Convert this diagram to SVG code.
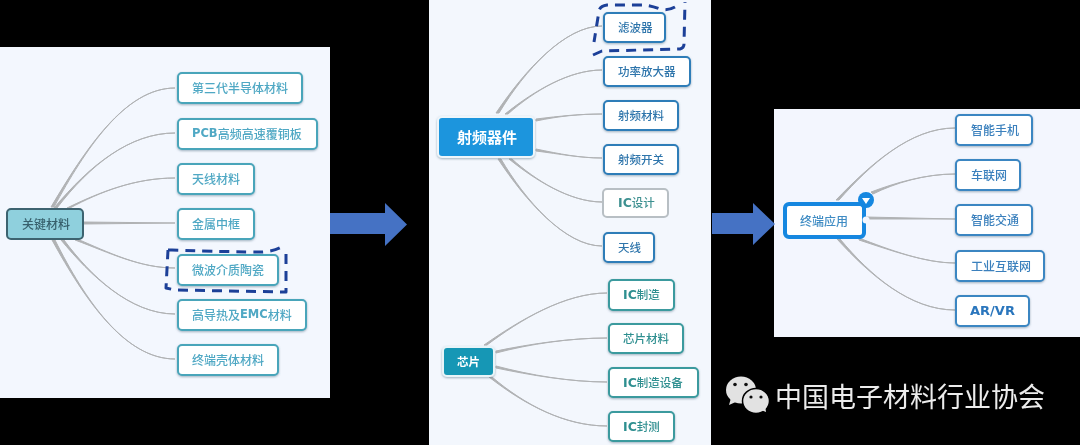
<svg xmlns="http://www.w3.org/2000/svg" width="1080" height="445" viewBox="0 0 1080 445">
<style>
text{font-family:"Noto Sans CJK SC","Liberation Sans",sans-serif;font-size:12px;font-weight:500;dominant-baseline:central;transform:translateY(-1px)}
.l{font-family:"DejaVu Sans","Liberation Sans",sans-serif;font-weight:700;font-size:11.5px}
.n{fill:#fff;stroke-width:2;filter:url(#sh)}
.a .n{stroke:#4aa5ba}.a text{fill:#4fa8c4}
.b .n{stroke:#2f7db8}.b text{fill:#2d74ab;font-size:11.5px}
.c .n{stroke:#3b9a9e}.c text{fill:#2f8f90;font-size:11.5px}
.d .n{stroke:#3b86c2}.d text{fill:#3a80bd}
.e .n{stroke:#b8bfc4;filter:none}.e text{fill:#3d9090;font-size:11.5px}
#conn path{fill:#b0b2b4;stroke:#b0b2b4;stroke-width:1}
.dash{fill:none;stroke:#1d3f98;stroke-width:3;stroke-dasharray:10 7;stroke-linejoin:round}
.ar{fill:#4472c4}
</style>
<defs>
<filter id="sh" x="-10%" y="-20%" width="120%" height="150%"><feDropShadow dx="0" dy="1" stdDeviation="0.8" flood-color="#4a6a80" flood-opacity=".5"/></filter>
<filter id="soft" x="0" y="0" width="100%" height="100%"><feGaussianBlur stdDeviation="0.4"/></filter>
</defs>
<rect width="1080" height="445" fill="#000"/>
<g filter="url(#soft)">
<rect x="0" y="47" width="330" height="351" fill="#f3f7fe"/>
<rect x="429" y="0" width="282" height="445" fill="#f3f7fd"/>
<rect x="774" y="109" width="306" height="228" fill="#f3f6fe"/>

<g id="conn">
<path d="M51 207C85 150 125 88 175 88C125 88 85 150 54 207Z"/>
<path d="M54 208C90 165 130 133 175 133C130 133 90 165 57 208Z"/>
<path d="M67 208C100 192 135 178 175 178C135 178 100 192 70 208Z"/>
<path d="M83 222L175 223L83 224Z"/>
<path d="M75 238C110 253 140 268 175 268C140 268 110 253 75 240Z"/>
<path d="M61 240C90 275 130 314 175 314C130 314 90 275 64 240Z"/>
<path d="M52 240C85 300 125 359 175 359C125 359 85 300 55 240Z"/>
<path d="M496 113C525 70 565 26 602 26C565 26 525 70 499 113Z"/>
<path d="M505 114C535 90 570 70 602 70C570 70 535 90 508 114Z"/>
<path d="M536 119C560 116 580 114 602 114C580 114 560 116 536 121Z"/>
<path d="M536 149C560 154 580 158 602 158C580 158 560 154 536 151Z"/>
<path d="M509 159C535 180 570 202 602 202C570 202 535 180 512 159Z"/>
<path d="M498 159C525 200 565 246 602 246C565 246 525 200 501 159Z"/>
<path d="M484 345C520 320 565 293 607 293C565 293 520 320 487 345Z"/>
<path d="M496 351C530 344 570 338 607 338C570 338 530 344 496 353Z"/>
<path d="M496 366C530 375 570 382 607 382C570 382 530 375 496 368Z"/>
<path d="M489 377C525 405 565 426 607 426C565 426 525 405 492 377Z"/>
<path d="M836 200C870 165 910 128 955 128C910 128 870 165 839 200Z"/>
<path d="M871 192C895 183 925 174 955 174C925 174 895 183 873 194Z"/>
<path d="M866 217L955 219L866 219Z"/>
<path d="M859 238C890 250 925 263 955 263C925 263 890 250 859 240Z"/>
<path d="M837 239C870 275 910 310 955 310C910 310 870 275 840 239Z"/>
</g>

<g id="n-key"><rect x="7" y="209" width="76" height="30" rx="4" fill="#8fd0dd" stroke="#3c6470" stroke-width="2"/><text x="22" y="224" fill="#37606c">关键材料</text></g>
<g id="n-sic" class="a"><rect class="n" x="178" y="73" width="124" height="30" rx="4"/><text x="192" y="88">第三代半导体材料</text></g>
<g id="n-pcb" class="a"><rect class="n" x="178" y="119" width="139" height="30" rx="4"/><text x="192" y="134"><tspan class="l">PCB</tspan>高频高速覆铜板</text></g>
<g id="n-ant1" class="a"><rect class="n" x="178" y="164" width="76" height="30" rx="4"/><text x="192" y="179">天线材料</text></g>
<g id="n-frame" class="a"><rect class="n" x="178" y="209" width="76" height="30" rx="4"/><text x="192" y="224">金属中框</text></g>
<g id="n-ceramic" class="a"><rect class="n" x="178" y="255" width="100" height="30" rx="4"/><text x="192" y="270">微波介质陶瓷</text></g>
<g id="n-emc" class="a"><rect class="n" x="178" y="300" width="128" height="30" rx="4"/><text x="192" y="315">高导热及<tspan class="l">EMC</tspan>材料</text></g>
<g id="n-shell" class="a"><rect class="n" x="178" y="345" width="100" height="30" rx="4"/><text x="192" y="360">终端壳体材料</text></g>
<path class="dash" d="M168 250L172 250Q230 252 262 252Q276 251 283 246M286 254L286 292L175 290L166 288L168 250"/>

<g id="n-rf"><rect x="438" y="117" width="96" height="40" rx="4" fill="#1c95dd" stroke="#eef6fb" stroke-width="2" filter="url(#sh)"/><text x="457" y="137" fill="#fff" style="font-size:15px;font-weight:700">射频器件</text></g>
<g id="n-filter" class="b"><rect class="n" x="604" y="13" width="61" height="29" rx="4"/><text x="618" y="28">滤波器</text></g>
<g id="n-pa" class="b"><rect class="n" x="604" y="57" width="86" height="29" rx="4"/><text x="618" y="72">功率放大器</text></g>
<g id="n-rfm" class="b"><rect class="n" x="604" y="101" width="74" height="29" rx="4"/><text x="618" y="116">射频材料</text></g>
<g id="n-rfs" class="b"><rect class="n" x="604" y="145" width="74" height="29" rx="4"/><text x="618" y="160">射频开关</text></g>
<g id="n-icd" class="e"><rect class="n" x="603" y="189" width="65" height="28" rx="4"/><text x="618" y="203"><tspan class="l" style="font-size:12.5px">IC</tspan>设计</text></g>
<g id="n-ant2" class="b"><rect class="n" x="604" y="233" width="50" height="29" rx="4"/><text x="618" y="248">天线</text></g>
<path class="dash" d="M593 55L602 51L680 49Q684 48 684 44L685 2M675 7Q668 11 660 9Q650 5 642 5L607 5Q600 6 599 11L594 42"/>

<g id="n-chip"><rect x="443" y="347" width="51" height="29" rx="4" fill="#1697b5" stroke="#e8f4f8" stroke-width="2" filter="url(#sh)"/><text x="457" y="362" fill="#fff" style="font-size:11.5px;font-weight:700">芯片</text></g>
<g id="n-icm" class="c"><rect class="n" x="609" y="280" width="65" height="30" rx="4"/><text x="623" y="295"><tspan class="l" style="font-size:12.5px">IC</tspan>制造</text></g>
<g id="n-chm" class="c"><rect class="n" x="609" y="324" width="74" height="29" rx="4"/><text x="623" y="339">芯片材料</text></g>
<g id="n-ice" class="c"><rect class="n" x="609" y="368" width="89" height="29" rx="4"/><text x="623" y="383"><tspan class="l" style="font-size:12.5px">IC</tspan>制造设备</text></g>
<g id="n-icp" class="c"><rect class="n" x="609" y="412" width="65" height="29" rx="4"/><text x="623" y="427"><tspan class="l" style="font-size:12.5px">IC</tspan>封测</text></g>

<g id="n-app"><rect x="785" y="204" width="79" height="33" rx="4" fill="#fff" stroke="#1387e0" stroke-width="4"/><circle cx="866" cy="220" r="3.500" fill="#f3f6fe"/><text x="800" y="221" fill="#3f8cc4">终端应用</text><circle cx="866" cy="200" r="8" fill="#1387e0"/><path d="M862 198L870 198L866 204Z" fill="#fff"/></g>
<g id="n-phone" class="d"><rect class="n" x="956" y="115" width="76" height="30" rx="4"/><text x="971" y="130">智能手机</text></g>
<g id="n-car" class="d"><rect class="n" x="956" y="160" width="64" height="30" rx="4"/><text x="971" y="175">车联网</text></g>
<g id="n-traffic" class="d"><rect class="n" x="956" y="205" width="76" height="30" rx="4"/><text x="971" y="220">智能交通</text></g>
<g id="n-iiot" class="d"><rect class="n" x="956" y="251" width="88" height="30" rx="4"/><text x="971" y="266">工业互联网</text></g>
<g id="n-ar" class="d"><rect class="n" x="956" y="296" width="73" height="30" rx="4"/><text x="970" y="311" class="l" style="font-size:13px;fill:#2b76bd">AR/VR</text></g>

<path class="ar" d="M330 213H385V203L407 224.5L385 246V234H330Z"/>
<path class="ar" d="M712 213H753V203L775 224L753 245V234H712Z"/>

<g id="wechat">
<ellipse cx="741" cy="390" rx="15" ry="13.5" fill="#e2e2e2"/>
<path d="M731 398L729 405L738 401Z" fill="#e2e2e2"/>
<ellipse cx="756" cy="401" rx="13.5" ry="12.5" fill="#e2e2e2" stroke="#000" stroke-width="1.500"/>
<path d="M761 410L766 412L765 405Z" fill="#e2e2e2"/>
<circle cx="735" cy="384.500" r="1.800" fill="#111"/><circle cx="746" cy="384.500" r="1.800" fill="#111"/>
<circle cx="751" cy="397" r="1.600" fill="#111"/><circle cx="761" cy="397" r="1.600" fill="#111"/>
</g>
<text x="775" y="396" fill="#ececec" style="font-size:27px;font-weight:400">中国电子材料行业协会</text>
</g>
</svg>
